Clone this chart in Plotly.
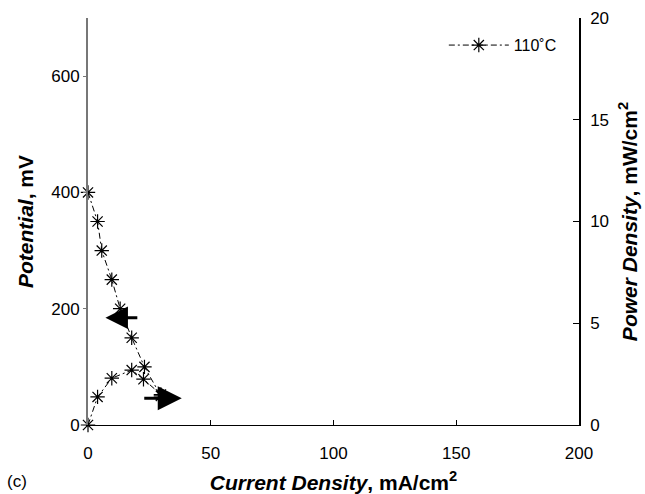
import plotly.graph_objects as go

# Polarization data (110 °C)
cur_pol = [0, 3.9, 5.6, 9.7, 13.1, 17.8, 23.0, 29.7]
potential = [400, 350, 300, 250, 200, 150, 100, 50]

# Power density data
cur_pow = [0, 3.9, 9.7, 17.8, 22.6, 29.7]
power = [0, 1.38, 2.3, 2.7, 2.25, 1.5]

x_ticks = [0, 50, 100, 150, 200]
y_ticks = [0, 200, 400, 600]
y2_ticks = [0, 5, 10, 15, 20]

FONT = "Liberation Sans, Arial, sans-serif"
marker = dict(symbol="asterisk-open", size=12, color="black", line=dict(color="black", width=1.2))
line = dict(color="black", width=1, dash="6px,3px,2px,3px")

fig = go.Figure()
fig.add_trace(go.Scatter(x=cur_pol, y=potential, mode="lines+markers", name="110˚C",
                         marker=marker, line=line, yaxis="y", cliponaxis=False))
fig.add_trace(go.Scatter(x=cur_pow, y=power, mode="lines+markers", name="power",
                         marker=marker, line=line, yaxis="y2", showlegend=False, cliponaxis=False))

# Arrows indicating which axis each curve belongs to
fig.add_annotation(x=7.1, y=184.5, ax=20.7, ay=184.5, xref="x", yref="y", axref="x", ayref="y",
                   text="", showarrow=True, arrowhead=2, arrowsize=1.5, arrowwidth=3, arrowcolor="black")
fig.add_annotation(x=38.2, y=46, ax=22.3, ay=46, xref="x", yref="y", axref="x", ayref="y",
                   text="", showarrow=True, arrowhead=2, arrowsize=1.6, arrowwidth=3, arrowcolor="black")

fig.add_annotation(text="(c)", x=-0.169, y=-0.14, xref="paper", yref="paper",
                   xanchor="left", yanchor="middle", showarrow=False,
                   font=dict(size=17, color="black", family=FONT))

fig.update_layout(
    width=645, height=494,
    margin=dict(l=88, r=66, t=18, b=69, autoexpand=False),
    plot_bgcolor="white", paper_bgcolor="white",
    font=dict(family=FONT, size=17, color="black"),
    showlegend=True,
    legend=dict(x=0.965, y=0.975, xanchor="right", yanchor="top", bgcolor="rgba(0,0,0,0)",
                itemwidth=60, font=dict(size=16, family=FONT)),
    xaxis=dict(range=[0, 200], tickvals=x_ticks, showgrid=False, zeroline=False, automargin=False,
               showline=True, linecolor="black", linewidth=1, ticks="inside", ticklen=5,
               tickcolor="black", tickfont=dict(size=17), ticklabelstandoff=13,
               title=dict(text="<b><i>Current Density</i>, mA/cm<sup>2</sup></b>",
                          font=dict(size=21, family=FONT), standoff=12)),
    yaxis=dict(range=[0, 700], tickvals=y_ticks, showgrid=False, zeroline=False, automargin=False,
               showline=True, linecolor="#777777", linewidth=2, ticks="outside", ticklen=3,
               tickcolor="#777777", tickfont=dict(size=17),
               title=dict(text="<b><i>Potential</i>, mV</b>", font=dict(size=21, family=FONT), standoff=12)),
    yaxis2=dict(range=[0, 20], tickvals=y2_ticks, overlaying="y", side="right", showgrid=False,
                zeroline=False, showline=True, linecolor="black", linewidth=1.5, ticks="inside",
                automargin=False,
                ticklen=6, tickcolor="black", tickfont=dict(size=17), ticklabelstandoff=6,
                title=dict(text="<b><i>Power Density</i>, mW/cm<sup>2</sup></b>",
                           font=dict(size=21, family=FONT), standoff=14)),
)

fig.write_html("out.html")
